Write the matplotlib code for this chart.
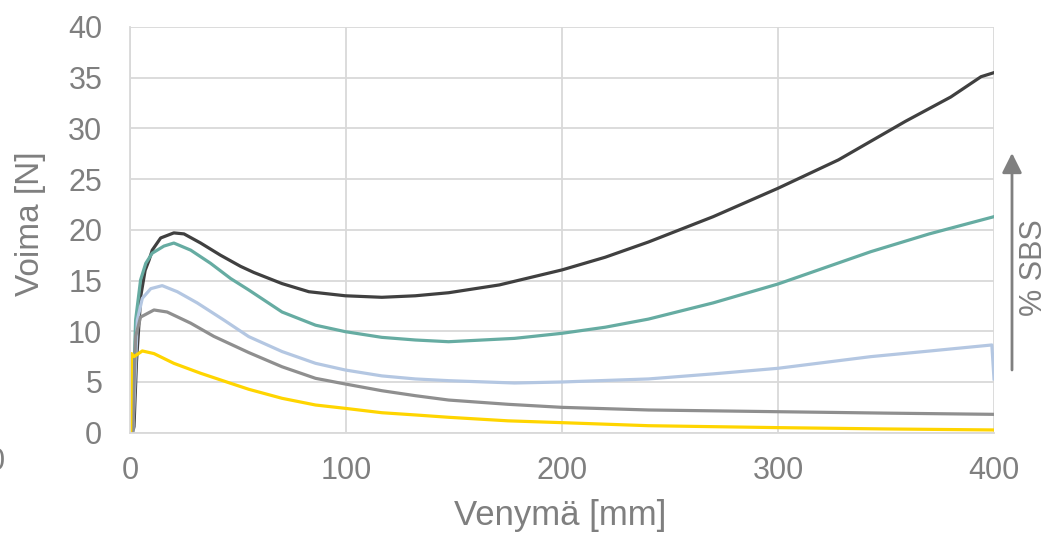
import matplotlib
matplotlib.use("Agg")
import matplotlib.pyplot as plt

plt.rcParams['font.family'] = ['Liberation Sans', 'DejaVu Sans']

# Venymä [mm] / Voima [N] luettu kuvasta
x_musta = [0, 1.2, 1.85, 3, 5, 7, 8.8, 10.3, 14.2, 20.3, 25, 32.7, 41.9, 51.2, 57.3, 70.4,
           82.8, 99.7, 116.6, 132.1, 147.5, 171, 200, 220, 240, 270, 300, 328, 359, 380, 394, 400]
y_musta = [0, 0, 0.6, 7, 13.5, 16, 17.0, 18.0, 19.2, 19.7, 19.6, 18.7, 17.5, 16.4, 15.8, 14.7,
           13.9, 13.5, 13.35, 13.5, 13.8, 14.57, 16.05, 17.3, 18.8, 21.3, 24.1, 26.9, 30.7,
           33.1, 35.1, 35.5]

x_turkoosi = [0, 1.1, 2.6, 4.9, 7.3, 10.3, 15.7, 20.3, 28.1, 37.3, 46.6, 55, 70.4, 85.9,
              99.7, 116.6, 132.1, 147.5, 178, 200, 220, 240, 270, 300, 343, 370, 400]
y_turkoosi = [0, 1.25, 11.1, 15.06, 16.7, 17.7, 18.4, 18.7, 18.0, 16.7, 15.2, 14.07, 11.9,
              10.6, 9.96, 9.4, 9.14, 8.97, 9.3, 9.8, 10.4, 11.2, 12.8, 14.66, 17.85, 19.6, 21.3]

x_vaaleansin = [0, 1.3, 3.4, 5.7, 9.6, 14.9, 21.9, 31.1, 43.5, 55, 70.4, 85.9, 99.7, 116.6,
                132.1, 147.5, 178, 200, 240, 270, 300, 343, 370, 399, 400]
y_vaaleansin = [0, 0, 11.1, 13.25, 14.2, 14.5, 13.9, 12.8, 11.1, 9.47, 8.0, 6.84, 6.18, 5.6,
                5.3, 5.13, 4.9, 5.0, 5.3, 5.8, 6.35, 7.5, 8.05, 8.65, 5.3]

x_harmaa = [0, 1.0, 1.5, 1.85, 2.6, 4.9, 11.1, 17.2, 28.1, 38.8, 55, 70.4, 85.9, 99.7, 116.6,
            132.1, 147.5, 175, 200, 240, 300, 350, 400]
y_harmaa = [0, 0, 1.25, 4.5, 9.5, 11.4, 12.1, 11.9, 10.8, 9.5, 7.9, 6.5, 5.36, 4.8, 4.14,
            3.65, 3.22, 2.8, 2.5, 2.24, 2.07, 1.93, 1.81]

x_keltainen = [0, 0.3, 0.7, 1.85, 5.7, 11.1, 20.3, 32.7, 46.6, 55, 70.4, 85.9, 99.7, 116.6,
               132.1, 147.5, 175, 200, 240, 300, 350, 400]
y_keltainen = [0, 0, 7.8, 7.5, 8.06, 7.8, 6.84, 5.86, 4.87, 4.28, 3.39, 2.73, 2.4, 1.97,
               1.75, 1.52, 1.17, 0.99, 0.69, 0.5, 0.37, 0.27]

x_ticks = [0, 100, 200, 300, 400]
y_ticks = [0, 5, 10, 15, 20, 25, 30, 35, 40]

W, H = 1051, 536
harmaa_teksti = '#7f7f7f'

fig = plt.figure(figsize=(W / 100, H / 100), dpi=100)
ax = fig.add_axes([130 / W, (H - 432.7) / H, 864 / W, (432.7 - 27) / H])

ax.plot(x_musta, y_musta, color='#404040', lw=2.3)
ax.plot(x_turkoosi, y_turkoosi, color='#66aca2', lw=2.3)
ax.plot(x_vaaleansin, y_vaaleansin, color='#b4c7e2', lw=2.3)
ax.plot(x_harmaa, y_harmaa, color='#8f8f8f', lw=2.3)
ax.plot(x_keltainen, y_keltainen, color='#ffd500', lw=2.3)

ax.set_xlim(0, 400)
ax.set_ylim(0, 40)
ax.set_xticks(x_ticks)
ax.set_yticks(y_ticks)
ax.grid(True, color='#d9d9d9', lw=1.3)
ax.set_axisbelow(True)
for s in ['top', 'right']:
    ax.spines[s].set_visible(False)
for s in ['left', 'bottom']:
    ax.spines[s].set_color('#d9d9d9')
    ax.spines[s].set_linewidth(1.3)
ax.tick_params(axis='both', length=0, labelsize=22, labelcolor=harmaa_teksti)
ax.tick_params(axis='y', pad=20)
ax.tick_params(axis='x', pad=17)

fig.text(30 / W, (H - 223.5) / H, 'Voima [N]', rotation=90, ha='center', va='center',
         fontsize=24, color=harmaa_teksti)
fig.text(560.5 / W, 21 / H, 'Venymä [mm]', ha='center', va='center',
         fontsize=25, color=harmaa_teksti)

# nuoli ja % SBS
ax.annotate('', xy=(1012 / W, (H - 153) / H), xytext=(1012 / W, (H - 370) / H),
            xycoords='figure fraction', textcoords='figure fraction',
            arrowprops=dict(arrowstyle='-|>,head_length=0.6,head_width=0.3',
                            mutation_scale=20, lw=2, color='#808080',
                            shrinkA=0, shrinkB=0))
fig.text(1034 / W, (H - 268) / H, '% SBS', rotation=90, ha='center', va='center',
         fontsize=22, color=harmaa_teksti)

# reunaan leikkautunut nolla, kuten alkuperäisessä
fig.text(5 / W, (H - 462) / H, '0', ha='right', va='center', fontsize=22, color=harmaa_teksti)

fig.savefig('out.png', dpi=100)
